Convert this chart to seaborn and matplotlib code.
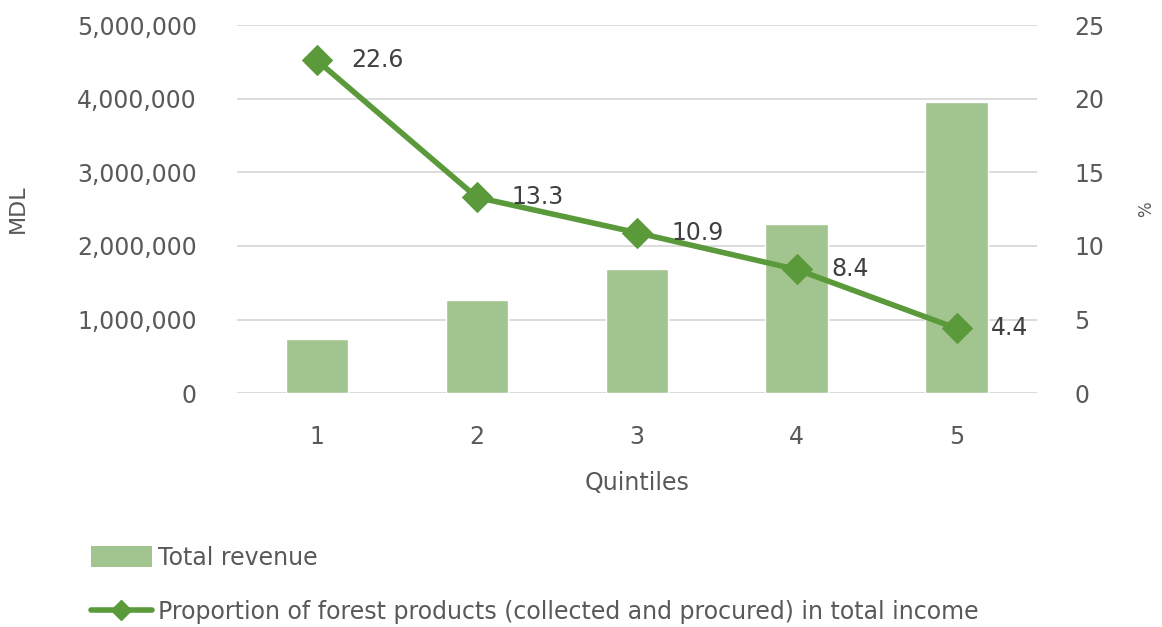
import matplotlib
matplotlib.use("Agg")
import matplotlib.pyplot as plt
from matplotlib.lines import Line2D
from matplotlib.patches import Patch
import numpy as np
import pandas as pd
import seaborn as sns

quintiles = ["1", "2", "3", "4", "5"]
total_revenue = [735000, 1265000, 1690000, 2300000, 3955000]
forest_share = [22.6, 13.3, 10.9, 8.4, 4.4]

bar_color = "#A2C48F"
line_color = "#5A9A3A"
text_color = "#595959"

sns.set_theme(style="white")
plt.rcParams["font.family"] = ["DejaVu Sans"]

df = pd.DataFrame({"quintile": quintiles, "revenue": total_revenue, "share": forest_share})
df["pos"] = np.arange(len(df))

fig = plt.figure(figsize=(11.62, 6.27), dpi=100)
ax = fig.add_axes([0.204, 0.373, 0.688, 0.587])

sns.barplot(data=df, x="quintile", y="revenue", color=bar_color, width=0.39,
            saturation=1, ax=ax, zorder=2)
ax.set_ylim(0, 5000000)
ax.set_yticks(np.arange(0, 5000001, 1000000))
ax.set_yticklabels([f"{v:,}" for v in range(0, 5000001, 1000000)])
ax.grid(axis="y", color="#d9d9d9", linewidth=1.3, zorder=0)
ax.set_axisbelow(True)
for s in ax.spines.values():
    s.set_visible(False)
ax.tick_params(axis="both", length=0, labelsize=17, labelcolor=text_color, pad=29)
ax.tick_params(axis="x", pad=23)
ax.set_xlabel("Quintiles", fontsize=17, color=text_color, labelpad=16)
ax.set_ylabel("MDL", fontsize=16, color=text_color)
ax.yaxis.set_label_coords(-0.262, 0.5)

ax2 = ax.twinx()
sns.lineplot(data=df, x="pos", y="share", color=line_color, linewidth=4,
             marker="D", markersize=15, markeredgecolor=line_color, ax=ax2, zorder=3)
ax2.set_ylim(0, 25)
ax2.set_yticks(range(0, 26, 5))
for s in ax2.spines.values():
    s.set_visible(False)
ax2.tick_params(axis="y", length=0, labelsize=17, labelcolor=text_color, pad=27)
ax2.set_ylabel("%", fontsize=12, color=text_color, labelpad=24)
ax2.set_xlim(-0.5, 4.5)

for x, y in zip(df["pos"], df["share"]):
    ax2.annotate(f"{y}", (x, y), xytext=(25, 0), textcoords="offset points",
                 va="center", ha="left", fontsize=17, color="#404040")

handles = [Patch(facecolor=bar_color, edgecolor="none"),
           Line2D([0], [0], color=line_color, linewidth=4, marker="D", markersize=10)]
labels = ["Total revenue",
          "Proportion of forest products (collected and procured) in total income"]
fig.legend(handles, labels, loc="upper left", bbox_to_anchor=(0.070, 0.145),
           frameon=False, fontsize=17, labelcolor=text_color, labelspacing=1.3,
           handlelength=2.6, handleheight=1.0, handletextpad=0.25, borderaxespad=0)

fig.savefig("out.png", dpi=100)
